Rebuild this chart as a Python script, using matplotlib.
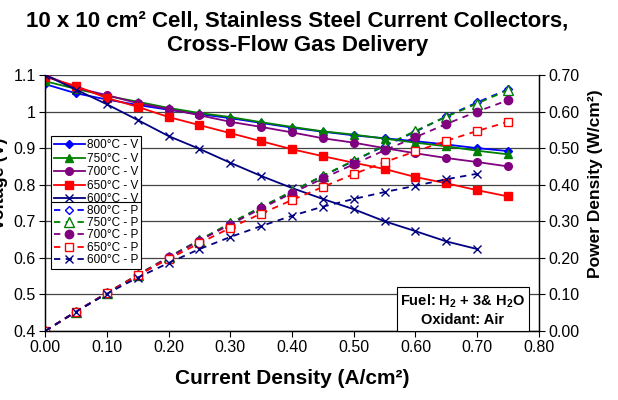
import numpy as np
import matplotlib
matplotlib.use('Agg')
import matplotlib.pyplot as plt

plt.rcParams['font.family'] = ['Liberation Sans', 'DejaVu Sans']
plt.rcParams['mathtext.fontset'] = 'custom'
plt.rcParams['mathtext.rm'] = 'Liberation Sans'
plt.rcParams['mathtext.bf'] = 'Liberation Sans:bold'

# current density (A/cm2)
current = [0.00, 0.05, 0.10, 0.15, 0.20, 0.25, 0.30, 0.35,
           0.40, 0.45, 0.50, 0.55, 0.60, 0.65, 0.70, 0.75]

# voltage (V)
v800 = [1.075, 1.050, 1.033, 1.018, 1.005, 0.993, 0.982, 0.969,
        0.956, 0.945, 0.935, 0.927, 0.919, 0.910, 0.900, 0.892]
v750 = [1.083, 1.062, 1.043, 1.027, 1.010, 0.996, 0.985, 0.971,
        0.958, 0.946, 0.937, 0.926, 0.915, 0.905, 0.893, 0.883]
v700 = [1.100, 1.065, 1.045, 1.023, 1.007, 0.990, 0.972, 0.958,
        0.943, 0.927, 0.915, 0.900, 0.886, 0.873, 0.862, 0.850]
v650 = [1.095, 1.070, 1.037, 1.013, 0.985, 0.963, 0.941, 0.919,
        0.897, 0.878, 0.860, 0.843, 0.821, 0.804, 0.785, 0.768]
v600 = [1.100, 1.060, 1.020, 0.977, 0.933, 0.898, 0.860, 0.824,
        0.791, 0.761, 0.733, 0.700, 0.673, 0.645, 0.624]

# power density (W/cm2)
p800 = [0.000, 0.052, 0.103, 0.152, 0.201, 0.248, 0.294, 0.338,
        0.381, 0.424, 0.465, 0.506, 0.545, 0.587, 0.625, 0.661]
p750 = [0.000, 0.053, 0.104, 0.154, 0.202, 0.249, 0.295, 0.339,
        0.382, 0.425, 0.466, 0.507, 0.547, 0.586, 0.622, 0.659]
p700 = [0.000, 0.053, 0.104, 0.153, 0.201, 0.247, 0.291, 0.335,
        0.377, 0.417, 0.456, 0.494, 0.530, 0.566, 0.600, 0.631]
p650 = [0.000, 0.053, 0.103, 0.152, 0.197, 0.240, 0.282, 0.321,
        0.358, 0.394, 0.429, 0.462, 0.491, 0.520, 0.547, 0.572]
p600 = [0.000, 0.053, 0.102, 0.146, 0.186, 0.224, 0.257, 0.287,
        0.315, 0.340, 0.361, 0.380, 0.397, 0.415, 0.430]

temps = ['800°C', '750°C', '700°C', '650°C', '600°C']
colors = ['#0000FF', '#008000', '#800080', '#FF0000', '#000080']
markers = ['D', '^', 'o', 's', 'x']
msizes = [4, 6, 5.5, 5.5, 5.5]
volts = [v800, v750, v700, v650, v600]
powers = [p800, p750, p700, p650, p600]
p_fill = [False, False, True, False, True]

fig = plt.figure(figsize=(6.18, 4.0), dpi=100)
ax = fig.add_axes([0.073, 0.1725, 0.799, 0.64])
ax2 = ax.twinx()

v_handles = []
p_handles = []
for i in range(5):
    n = len(volts[i])
    h, = ax.plot(current[:n], volts[i], color=colors[i], marker=markers[i],
                 ms=msizes[i], lw=1.3, mew=1.0, label=temps[i] + ' - V')
    v_handles.append(h)
    mfc = colors[i] if p_fill[i] else 'white'
    h2, = ax2.plot(current[:n], powers[i], color=colors[i], marker=markers[i],
                   ms=msizes[i] + 0.5, lw=1.3, mew=1.0, mfc=mfc,
                   ls=(0, (3.5, 3)), label=temps[i] + ' - P')
    p_handles.append(h2)

ax.set_xlim(0, 0.8)
ax.set_ylim(0.4, 1.1)
ax2.set_ylim(0, 0.7)
ax.set_xticks(np.arange(0, 0.81, 0.1))
ax.set_xticklabels(['%.2f' % t for t in np.arange(0, 0.81, 0.1)])
ax.set_yticks(np.arange(0.4, 1.11, 0.1))
ax.set_yticklabels(['0.4', '0.5', '0.6', '0.7', '0.8', '0.9', '1', '1.1'])
ax2.set_yticks(np.arange(0, 0.71, 0.1))
ax2.set_yticklabels(['%.2f' % t for t in np.arange(0, 0.71, 0.1)])

ax.yaxis.grid(True, color='#444444', lw=0.9)
ax.set_axisbelow(True)
for a in (ax, ax2):
    a.spines['top'].set_visible(False)
    a.tick_params(labelsize=11.5, direction='out', length=4, width=0.8, pad=2.5)
    for s in a.spines.values():
        s.set_linewidth(0.9)

ax.set_xlabel('Current Density (A/cm²)', fontsize=15, fontweight='bold', labelpad=10)
ax2.set_ylabel('Power Density (W/cm²)', fontsize=12.5, fontweight='bold', labelpad=6)
ax2.yaxis.label.set_y(0.574)
fig.text(-0.014, 0.54, 'Voltage (V)', rotation=90, fontsize=13,
         fontweight='bold', ha='left', va='center')

fig.text(0.481, 1 - 27 / 400, '10 x 10 cm² Cell, Stainless Steel Current Collectors,',
         fontsize=16, fontweight='bold', ha='center', va='baseline')
fig.text(0.481, 1 - 51 / 400, 'Cross-Flow Gas Delivery',
         fontsize=16, fontweight='bold', ha='center', va='baseline')

leg_kw = dict(loc='upper left', fontsize=8.5, handlelength=2.6, borderpad=0.25,
              handletextpad=0.2, borderaxespad=0, fancybox=False,
              edgecolor='black', framealpha=1)
leg1 = ax2.legend(handles=v_handles, bbox_to_anchor=(0.012, 0.76),
                  labelspacing=0.12, **leg_kw)
leg1.get_frame().set_linewidth(0.8)
ax2.add_artist(leg1)
leg2 = ax2.legend(handles=p_handles, bbox_to_anchor=(0.012, 0.505),
                  labelspacing=0.03, **leg_kw)
leg2.get_frame().set_linewidth(0.8)

ax2.text(0.846, 0.083, 'Fuel: H$_\\mathbf{2}$ + 3& H$_\\mathbf{2}$O\nOxidant: Air',
         transform=ax2.transAxes, ha='center', va='center', fontsize=10.5,
         fontweight='bold', linespacing=1.25,
         bbox=dict(boxstyle='square,pad=0.25', fc='white', ec='black', lw=0.8))

fig.savefig('out.png', dpi=100)
